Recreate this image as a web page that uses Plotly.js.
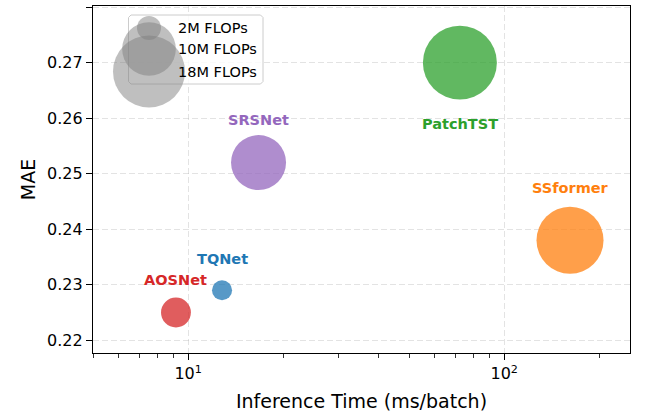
<!DOCTYPE html>
<html><head><meta charset="utf-8">
<script src="https://cdn.plot.ly/plotly-3.0.1.min.js"></script>
<style>html,body{margin:0;padding:0;background:#fff}#chart{width:645px;height:416px}</style>
</head><body><div id="chart"></div>
<script>
// ---- data ----
const models = ['TQNet', 'AOSNet', 'SRSNet', 'PatchTST', 'SSformer'];
const inferenceTime = [12.8, 9.15, 16.7, 72.4, 161.5];   // ms/batch
const maeValues = [0.229, 0.225, 0.252, 0.270, 0.238];
const flopsM = [1.4, 3.1, 10.5, 19.0, 15.6];             // M FLOPs (bubble area)
const modelColors = ['#1f77b4', '#d62728', '#9467bd', '#2ca02c', '#ff7f0e'];
const legendFlops = [2, 10, 18];
const legendLabels = ['2M FLOPs', '10M FLOPs', '18M FLOPs'];
const xTickVals = [10, 100];
const xTickText = ['10<sup>1</sup>', '10<sup>2</sup>'];
const xMinorVals = [5, 6, 7, 8, 9, 20, 30, 40, 50, 60, 70, 80, 90, 200];
const yTickVals = [0.22, 0.23, 0.24, 0.25, 0.26, 0.27, 0.28];

// ---- styling (not data) ----
const labelShiftPx = [31, 32, 43, -61, 52];
const FONT = 'DejaVu Sans, Liberation Sans, sans-serif';
const SIZEREF = 4 / 576;   // area mode: 2M FLOPs -> 24px diameter

const bubbles = {
  type: 'scatter', mode: 'markers',
  x: inferenceTime, y: maeValues, text: models,
  marker: { size: flopsM, sizemode: 'area', sizeref: SIZEREF,
            color: modelColors, opacity: 0.75, line: { width: 0 } },
  hoverinfo: 'text+x+y', showlegend: false
};

// legend, drawn in a hidden pixel-like overlay axis
const legX = 149, legRowY = [28, 49, 71.5];
const L = 128.5, R = 263, T = 15, B = 84, c = 2.5;
const legendFrame = {
  type: 'scatter', mode: 'lines', xaxis: 'x2', yaxis: 'y2',
  x: [L + c, R - c, R, R, R - c, L + c, L, L, L + c],
  y: [T, T, T + c, B - c, B, B, B - c, T + c, T],
  fill: 'toself', fillcolor: 'rgba(255,255,255,0.8)',
  line: { color: 'rgba(204,204,204,1)', width: 1 },
  hoverinfo: 'skip', showlegend: false
};
const legendBubbles = {
  type: 'scatter', mode: 'markers', xaxis: 'x2', yaxis: 'y2',
  x: legendFlops.map(() => legX), y: legRowY,
  marker: { size: legendFlops, sizemode: 'area', sizeref: SIZEREF,
            color: 'gray', opacity: 0.5, line: { width: 0 } },
  hoverinfo: 'skip', showlegend: false
};

const annotations = models.map((m, i) => ({
  x: Math.log10(inferenceTime[i]), y: maeValues[i], xref: 'x', yref: 'y',
  text: m, showarrow: false, yshift: labelShiftPx[i],
  font: { family: FONT, size: 14.5, color: modelColors[i], weight: 'bold' }
}));
legendLabels.forEach((t, i) => annotations.push({
  x: 176, y: legRowY[i], xref: 'x2', yref: 'y2', xanchor: 'left', yanchor: 'middle',
  text: t, showarrow: false, font: { family: FONT, size: 14.5, color: '#000' }
}));

const gridCol = 'rgba(176,176,176,0.35)';
const layout = {
  width: 645, height: 416,
  margin: { l: 93, r: 15, t: 6, b: 63, pad: 0 },
  paper_bgcolor: '#fff', plot_bgcolor: '#fff',
  font: { family: FONT, color: '#000' },
  showlegend: false,
  xaxis: {
    type: 'log', range: [Math.log10(5), Math.log10(250)],
    tickmode: 'array', tickvals: xTickVals, ticktext: xTickText,
    ticks: 'outside', ticklen: 6, tickwidth: 1, tickcolor: '#000',
    tickfont: { size: 16, family: FONT, color: '#000' },
    showline: true, mirror: true, linecolor: '#000', linewidth: 1.2,
    showgrid: true, gridcolor: gridCol, griddash: '6px,3px', gridwidth: 1,
    zeroline: false,
    minor: { tickmode: 'array', tickvals: xMinorVals, ticks: 'outside', ticklen: 3.5,
             tickwidth: 0.8, tickcolor: '#000', showgrid: false },
    title: { text: 'Inference Time (ms/batch)', font: { size: 19, family: FONT, color: '#000' }, standoff: 12 },
    automargin: false
  },
  yaxis: {
    range: [0.2177, 0.2802],
    tickmode: 'array', tickvals: yTickVals, ticktext: yTickVals.map(v => v.toFixed(2)),
    ticks: 'outside', ticklen: 6, tickwidth: 1, tickcolor: '#000',
    tickfont: { size: 16, family: FONT, color: '#000' },
    showline: true, mirror: true, linecolor: '#000', linewidth: 1.2,
    showgrid: true, gridcolor: gridCol, griddash: '6px,3px', gridwidth: 1,
    zeroline: false,
    title: { text: 'MAE', font: { size: 19, family: FONT, color: '#000' }, standoff: 6 },
    automargin: false
  },
  xaxis2: { overlaying: 'x', range: [93, 630], visible: false, fixedrange: true },
  yaxis2: { overlaying: 'y', range: [353, 6], visible: false, fixedrange: true },
  annotations: annotations
};

Plotly.newPlot('chart', [bubbles, legendFrame, legendBubbles], layout, { displayModeBar: false, staticPlot: true });
</script>
</body></html>
